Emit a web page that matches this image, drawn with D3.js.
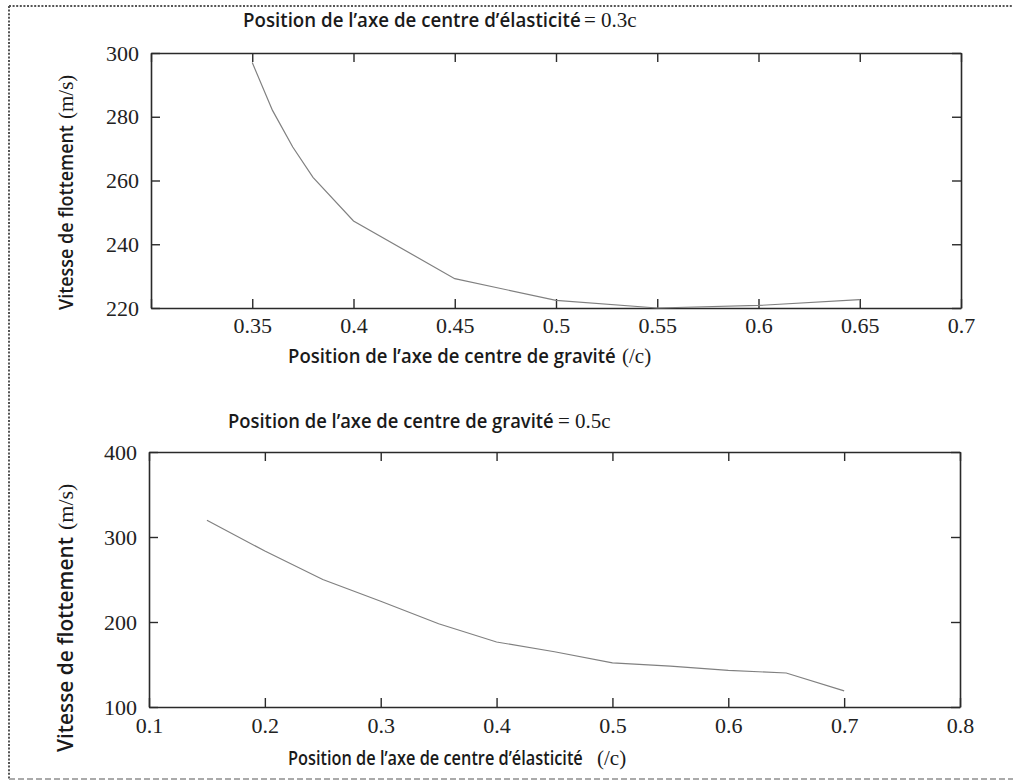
<!DOCTYPE html>
<html><head><meta charset="utf-8">
<script src="https://cdn.jsdelivr.net/npm/d3@7"></script>
<style>body{margin:0;background:#fff} svg{display:block}</style>
</head><body><svg id="c" width="1013" height="784"></svg>
<script>
// ---- data ----
const topX = [0.35, 0.36, 0.37, 0.38, 0.40, 0.45, 0.50, 0.55, 0.60, 0.65];
const topY = [297, 282, 270.5, 261, 247.3, 229.2, 222.4, 220, 220.8, 222.6];
const topXTicks = [0.3, 0.35, 0.4, 0.45, 0.5, 0.55, 0.6, 0.65, 0.7];
const topYTicks = [220, 240, 260, 280, 300];
const botX = [0.15, 0.2, 0.25, 0.3, 0.35, 0.4, 0.45, 0.5, 0.55, 0.6, 0.65, 0.7];
const botY = [319.6, 283.5, 250, 224.4, 198, 176.5, 165, 152, 148, 143, 140, 119];
const botXTicks = [0.1, 0.2, 0.3, 0.4, 0.5, 0.6, 0.7, 0.8];
const botYTicks = [100, 200, 300, 400];

const SANS = "'Open Sans', 'Noto Sans', sans-serif";
const SERIF = "'Liberation Serif', 'DejaVu Serif', serif";
const svg = d3.select("#c");

// dotted frame
const frame = svg.append("g").attr("fill", "none").attr("stroke", "#555")
  .attr("stroke-width", 2).attr("stroke-dasharray", "2,1.6");
frame.append("line").attr("x1", 9).attr("y1", 6).attr("x2", 1013).attr("y2", 6);
frame.append("line").attr("x1", 9).attr("y1", 6).attr("x2", 9).attr("y2", 779);
svg.append("line").attr("x1", 9).attr("y1", 779).attr("x2", 1013).attr("y2", 779)
  .attr("stroke", "#aaa").attr("stroke-width", 2).attr("stroke-dasharray", "6,3");

function panel(cfg) {
  const x = d3.scaleLinear().domain(cfg.xd).range([cfg.l, cfg.r]);
  const y = d3.scaleLinear().domain(cfg.yd).range([cfg.b, cfg.t]);
  const g = svg.append("g");
  const style = sel => {
    sel.attr("font-family", null).attr("font-size", null);
    sel.selectAll("path.domain").attr("stroke", "#2a2a2a").attr("stroke-width", 1.6);
    sel.selectAll(".tick line").attr("stroke", "#2a2a2a").attr("stroke-width", 1.4);
    sel.selectAll("text").style("font-family", SERIF).style("font-size", "22px").attr("fill", "#222");
  };
  g.append("g").attr("transform", `translate(0,${cfg.b})`)
    .call(d3.axisBottom(x).tickValues(cfg.xt).tickSizeInner(-9).tickSizeOuter(0).tickPadding(cfg.xpad)
      .tickFormat(d => cfg.xlab(d)))
    .call(style);
  g.append("g").attr("transform", `translate(0,${cfg.t})`)
    .call(d3.axisTop(x).tickValues(cfg.xt).tickSizeInner(-9).tickSizeOuter(0).tickFormat(""))
    .call(style);
  g.append("g").attr("transform", `translate(${cfg.l},0)`)
    .call(d3.axisLeft(y).tickValues(cfg.yt).tickSizeInner(-9).tickSizeOuter(0).tickPadding(12))
    .call(style);
  g.append("g").attr("transform", `translate(${cfg.r},0)`)
    .call(d3.axisRight(y).tickValues(cfg.yt).tickSizeInner(-9).tickSizeOuter(0).tickFormat(""))
    .call(style);
  g.selectAll(".domain").attr("fill", "none");
  const pts = cfg.xs.map((v, i) => [v, cfg.ys[i]]);
  g.append("path").datum(pts)
    .attr("fill", "none").attr("stroke", "#808080").attr("stroke-width", 1.2)
    .attr("d", d3.line().x(d => x(d[0])).y(d => y(d[1])));
}

panel({xd: [0.3, 0.7], yd: [220, 300], l: 151, r: 961, t: 53, b: 308,
  xt: topXTicks, yt: topYTicks, xs: topX, ys: topY, xpad: 9,
  xlab: d => (Math.abs(d - 0.3) < 1e-9 ? "" : String(+d.toFixed(2)))});
panel({xd: [0.1, 0.8], yd: [100, 400], l: 149, r: 960, t: 452, b: 707,
  xt: botXTicks, yt: botYTicks, xs: botX, ys: botY, xpad: 10,
  xlab: d => String(+d.toFixed(1))});

// sans text squeezed horizontally to a target width (keeps real text)
function sansText(parent, x, y, txt, len, size) {
  const g = parent.append("g");
  const t = g.append("text").attr("x", 0).attr("y", 0)
    .style("font-family", SANS).style("font-weight", 600).style("font-size", size + "px")
    .attr("fill", "#1a1a1a").text(txt);
  const w = t.node().getComputedTextLength();
  g.attr("transform", `translate(${x},${y}) scale(${len / w},1)`);
  return g;
}
function label(x, y, sans, len, serif, gap, size, ssize) {
  sansText(svg, x, y, sans, len, size);
  svg.append("text").attr("x", x + len + gap).attr("y", y)
    .style("font-family", SERIF).style("font-size", ssize + "px").attr("fill", "#1a1a1a").text(serif);
}
label(243, 27, "Position de l\u2019axe de centre d\u2019élasticité", 338, "= 0.3c", 3, 19, 21);
label(288, 363, "Position de l\u2019axe de centre de gravité", 328, "(/c)", 6, 19, 21);
label(228, 428, "Position de l\u2019axe de centre de gravité", 326, "= 0.5c", 4, 19, 21);
label(288, 765, "Position de l\u2019axe de centre d\u2019élasticité", 295, "(/c)", 14, 19, 21);

function ylabel(bx, yStart, sansLen, gap, size, ssize) {
  const g = svg.append("g").attr("transform", `translate(${bx},${yStart}) rotate(-90)`);
  sansText(g, 0, 0, "Vitesse de flottement", sansLen, size);
  g.append("text").attr("x", sansLen + gap).attr("y", 0)
    .style("font-family", SERIF).style("font-size", ssize + "px").attr("fill", "#1a1a1a").text("(m/s)");
}
ylabel(73, 310, 185, 6, 20, 21);
ylabel(73, 752, 215, 7, 21, 22);
</script></body></html>
